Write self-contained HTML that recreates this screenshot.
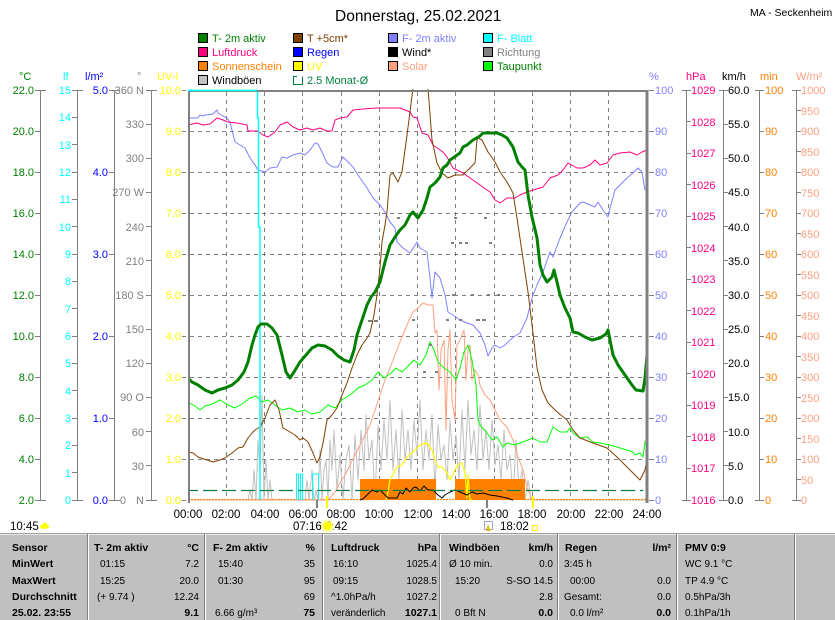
<!DOCTYPE html>
<html><head><meta charset="utf-8"><style>
html,body{margin:0;padding:0;background:#fff;}
svg{display:block;font-family:"Liberation Sans",Arial,sans-serif;}
.t11{font-size:11px}
.tb{font-size:10.5px;font-weight:bold}
.tr{font-size:10px}
</style></head><body>
<svg width="835" height="620" viewBox="0 0 835 620" xmlns="http://www.w3.org/2000/svg">
<rect width="835" height="620" fill="#fff"/>
<!-- title -->
<text x="335" y="21" font-size="15.5" fill="#000">Donnerstag, 25.02.2021</text>
<text x="750" y="16" font-size="10.5" fill="#000">MA - Seckenheim</text>

<!-- legend -->
<g class="t11" stroke="#000" stroke-width="1">
<rect x="198.5" y="33.5" width="9" height="9" fill="#008000"/>
<rect x="198.5" y="47.5" width="9" height="9" fill="#ff0080"/>
<rect x="198.5" y="61.5" width="9" height="9" fill="#ff8000"/>
<rect x="198.5" y="75.5" width="9" height="9" fill="#c0c0c0"/>
<rect x="293.5" y="33.5" width="9" height="9" fill="#804000"/>
<rect x="293.5" y="47.5" width="9" height="9" fill="#0000ff"/>
<rect x="293.5" y="61.5" width="9" height="9" fill="#ffff00"/>
<rect x="388.5" y="33.5" width="9" height="9" fill="#8080ff"/>
<rect x="388.5" y="47.5" width="9" height="9" fill="#000"/>
<rect x="388.5" y="61.5" width="9" height="9" fill="#ffa080"/>
<rect x="483.5" y="33.5" width="9" height="9" fill="#00ffff"/>
<rect x="483.5" y="47.5" width="9" height="9" fill="#808080"/>
<rect x="483.5" y="61.5" width="9" height="9" fill="#00ff00"/>
</g>
<path d="M297,76.5H293.5V84.5H302.5V76.5" fill="none" stroke="#008040" stroke-width="1"/>
<g class="t11" stroke="none">
<text x="212" y="42" fill="#008000">T- 2m aktiv</text>
<text x="212" y="56" fill="#ff0080">Luftdruck</text>
<text x="212" y="70" fill="#ff8000">Sonnenschein</text>
<text x="212" y="84" fill="#000">Windböen</text>
<text x="307" y="42" fill="#804000">T +5cm*</text>
<text x="307" y="56" fill="#0000ff">Regen</text>
<text x="307" y="70" fill="#ffff00">UV</text>
<text x="307" y="84" fill="#008040">2.5 Monat-Ø</text>
<text x="402" y="42" fill="#8080ff">F- 2m aktiv</text>
<text x="402" y="56" fill="#000">Wind*</text>
<text x="402" y="70" fill="#ffa080">Solar</text>
<text x="497" y="42" fill="#00ffff">F- Blatt</text>
<text x="497" y="56" fill="#808080">Richtung</text>
<text x="497" y="70" fill="#008000">Taupunkt</text>
</g>

<!-- unit headers -->
<g class="t11">
<text x="19" y="80" fill="#008000">°C</text>
<text x="63" y="80" fill="#00ffff">lf</text>
<text x="85" y="80" fill="#0000ff">l/m²</text>
<text x="137" y="80" fill="#808080">°</text>
<text x="157" y="80" fill="#ffff00">UV-I</text>
<text x="649" y="80" fill="#8080ff">%</text>
<text x="686" y="80" fill="#ff0080">hPa</text>
<text x="722" y="80" fill="#000">km/h</text>
<text x="760" y="80" fill="#ff8000">min</text>
<text x="796" y="80" fill="#ffa080">W/m²</text>
</g>

<!-- axis lines & ticks -->
<g fill="none" stroke="#808080" stroke-width="1" shape-rendering="crispEdges">
<path d="M40.5,90V500 M35,90.5h11 M35,131.5h6 M35,172.5h6 M35,213.5h6 M35,254.5h6 M35,295.5h6 M35,336.5h6 M35,377.5h6 M35,418.5h6 M35,459.5h6 M35,500.5h11"/>
<path d="M77.5,90V500 M72,90.5h11 M72,117.5h6 M72,144.5h6 M72,172.5h6 M72,199.5h6 M72,226.5h6 M72,254.5h6 M72,281.5h6 M72,308.5h6 M72,336.5h6 M72,363.5h6 M72,390.5h6 M72,418.5h6 M72,445.5h6 M72,472.5h6 M72,500.5h11"/>
<path d="M114.5,90V500 M109,90.5h11 M109,172.5h6 M109,254.5h6 M109,336.5h6 M109,418.5h6 M109,500.5h11"/>
<path d="M151.5,90V500 M146,90.5h11 M146,124.5h6 M146,158.5h6 M146,192.5h6 M146,226.5h6 M146,260.5h6 M146,295.5h6 M146,329.5h6 M146,363.5h6 M146,397.5h6 M146,431.5h6 M146,465.5h6 M146,500.5h11"/>
<path d="M649,90.5h5 M649,131.5h5 M649,172.5h5 M649,213.5h5 M649,254.5h5 M649,295.5h5 M649,336.5h5 M649,377.5h5 M649,418.5h5 M649,459.5h5 M649,500.5h5"/>
<path d="M686.5,90V500 M682,90.5h9 M686,121.5h5 M686,153.5h5 M686,184.5h5 M686,216.5h5 M686,247.5h5 M686,279.5h5 M686,310.5h5 M686,342.5h5 M686,373.5h5 M686,405.5h5 M686,436.5h5 M686,468.5h5 M682,500.5h9"/>
<path d="M723.5,90V500 M719,90.5h9 M723,124.5h5 M723,158.5h5 M723,192.5h5 M723,226.5h5 M723,260.5h5 M723,295.5h5 M723,329.5h5 M723,363.5h5 M723,397.5h5 M723,431.5h5 M723,465.5h5 M719,500.5h9"/>
<path d="M759.5,90V500 M755,90.5h9 M759,131.5h5 M759,172.5h5 M759,213.5h5 M759,254.5h5 M759,295.5h5 M759,336.5h5 M759,377.5h5 M759,418.5h5 M759,459.5h5 M755,500.5h9"/>
<path d="M796.5,90V500 M792,90.5h9 M796,110.5h5 M796,131.5h5 M796,151.5h5 M796,172.5h5 M796,192.5h5 M796,213.5h5 M796,233.5h5 M796,254.5h5 M796,274.5h5 M796,295.5h5 M796,315.5h5 M796,336.5h5 M796,356.5h5 M796,377.5h5 M796,397.5h5 M796,418.5h5 M796,438.5h5 M796,459.5h5 M796,479.5h5 M792,500.5h9"/>
</g>

<!-- left axis labels -->
<g class="t11" text-anchor="end">
<g fill="#008000">
<text x="34" y="94">22.0</text><text x="34" y="135">20.0</text><text x="34" y="176">18.0</text><text x="34" y="217">16.0</text><text x="34" y="258">14.0</text><text x="34" y="299">12.0</text><text x="34" y="340">10.0</text><text x="34" y="381">8.0</text><text x="34" y="422">6.0</text><text x="34" y="463">4.0</text><text x="34" y="504">2.0</text>
</g>
<g fill="#00ffff">
<text x="71" y="94">15</text><text x="71" y="121">14</text><text x="71" y="149">13</text><text x="71" y="176">12</text><text x="71" y="203">11</text><text x="71" y="231">10</text><text x="71" y="258">9</text><text x="71" y="285">8</text><text x="71" y="313">7</text><text x="71" y="340">6</text><text x="71" y="367">5</text><text x="71" y="395">4</text><text x="71" y="422">3</text><text x="71" y="449">2</text><text x="71" y="477">1</text><text x="71" y="504">0</text>
</g>
<g fill="#0000ff">
<text x="108" y="94">5.0</text><text x="108" y="176">4.0</text><text x="108" y="258">3.0</text><text x="108" y="340">2.0</text><text x="108" y="422">1.0</text><text x="108" y="504">0.0</text>
</g>
<g fill="#808080">
<text x="144" y="94">360 N</text><text x="144" y="128">330</text><text x="144" y="162">300</text><text x="144" y="196">270 W</text><text x="144" y="231">240</text><text x="144" y="265">210</text><text x="144" y="299">180 S</text><text x="144" y="333">150</text><text x="144" y="367">120</text><text x="144" y="401">90  O</text><text x="144" y="436">60</text><text x="144" y="470">30</text><text x="126" y="504">0</text><text x="144" y="504">N</text>
</g>
<g fill="#ffff00">
<text x="181" y="94">10.0</text><text x="181" y="135">9.0</text><text x="181" y="176">8.0</text><text x="181" y="217">7.0</text><text x="181" y="258">6.0</text><text x="181" y="299">5.0</text><text x="181" y="340">4.0</text><text x="181" y="381">3.0</text><text x="181" y="422">2.0</text><text x="181" y="463">1.0</text><text x="181" y="504">0.0</text>
</g>
</g>

<!-- right axis labels -->
<g class="t11">
<g fill="#8080ff">
<text x="655" y="94">100</text><text x="655" y="135">90</text><text x="655" y="176">80</text><text x="655" y="217">70</text><text x="655" y="258">60</text><text x="655" y="299">50</text><text x="655" y="340">40</text><text x="655" y="381">30</text><text x="655" y="422">20</text><text x="655" y="463">10</text><text x="655" y="504">0</text>
</g>
<g fill="#ff0080">
<text x="691" y="94">1029</text><text x="691" y="126">1028</text><text x="691" y="157">1027</text><text x="691" y="189">1026</text><text x="691" y="220">1025</text><text x="691" y="252">1024</text><text x="691" y="283">1023</text><text x="691" y="315">1022</text><text x="691" y="346">1021</text><text x="691" y="378">1020</text><text x="691" y="409">1019</text><text x="691" y="441">1018</text><text x="691" y="472">1017</text><text x="691" y="504">1016</text>
</g>
<g fill="#000">
<text x="728" y="94">60.0</text><text x="728" y="128">55.0</text><text x="728" y="162">50.0</text><text x="728" y="196">45.0</text><text x="728" y="231">40.0</text><text x="728" y="265">35.0</text><text x="728" y="299">30.0</text><text x="728" y="333">25.0</text><text x="728" y="367">20.0</text><text x="728" y="401">15.0</text><text x="728" y="436">10.0</text><text x="728" y="470">5.0</text><text x="728" y="504">0.0</text>
</g>
<g fill="#ff8000">
<text x="765" y="94">100</text><text x="765" y="135">90</text><text x="765" y="176">80</text><text x="765" y="217">70</text><text x="765" y="258">60</text><text x="765" y="299">50</text><text x="765" y="340">40</text><text x="765" y="381">30</text><text x="765" y="422">20</text><text x="765" y="463">10</text><text x="765" y="504">0</text>
</g>
<g fill="#ffa080">
<text x="801" y="94">1000</text><text x="801" y="115">950</text><text x="801" y="135">900</text><text x="801" y="156">850</text><text x="801" y="176">800</text><text x="801" y="197">750</text><text x="801" y="217">700</text><text x="801" y="238">650</text><text x="801" y="258">600</text><text x="801" y="279">550</text><text x="801" y="299">500</text><text x="801" y="320">450</text><text x="801" y="340">400</text><text x="801" y="361">350</text><text x="801" y="381">300</text><text x="801" y="402">250</text><text x="801" y="422">200</text><text x="801" y="443">150</text><text x="801" y="463">100</text><text x="801" y="484">50</text><text x="801" y="504">0</text>
</g>
</g>

<!-- grid -->
<g fill="none" stroke="#808080" stroke-width="1" stroke-dasharray="4,4" shape-rendering="crispEdges">
<path d="M182,90.5h6 M182,500.5h6 M182,131.5H646 M182,172.5H646 M182,213.5H646 M182,254.5H646 M182,295.5H646 M182,336.5H646 M182,377.5H646 M182,418.5H646 M182,459.5H646"/>
<path d="M226.5,92V500 M264.5,92V500 M302.5,92V500 M341.5,92V500 M379.5,92V500 M417.5,92V500 M455.5,92V500 M494.5,92V500 M532.5,92V500 M570.5,92V500 M608.5,92V500"/>
</g>

<defs><clipPath id="pc"><rect x="188" y="89" width="460" height="413"/></clipPath></defs>
<g clip-path="url(#pc)" fill="none" stroke-linejoin="round">
<!-- Windböen -->
<polyline stroke="#c0c0c0" stroke-width="1" points="188,500 248,500 250,490 252,500 254,470 256,500 258,440 260,470 262,395 264,500 266,460 268,500 270,480 272,500 305,500 307,480 309,500 312,470 314,500 316,490 318,500 320,450 322,500 324,470 326,460 328,500 330,440 332,470 334,430 337,490 340,455 343,500 346,460 349,445 352,500 355,435 358,480 361,430 364,470 366,415 369,460 372,440 375,500 378,425 381,470 384,420 387,460 390,400 393,470 396,430 399,480 402,410 405,460 408,430 411,470 414,420 417,455 420,400 423,470 426,430 429,460 432,415 435,490 438,425 441,460 444,445 447,480 450,420 453,460 456,435 459,480 462,410 465,470 468,400 471,455 474,430 477,470 480,405 483,460 486,430 489,470 492,420 495,465 498,445 501,480 504,430 507,470 510,455 513,500 516,440 519,490 522,470 525,500 528,480 531,500 647,500"/>
<!-- Sonnenschein -->
<rect x="360" y="479" width="76" height="21" fill="#ff8000"/>
<rect x="455" y="479" width="70" height="21" fill="#ff8000"/>
<line x1="188" y1="499.5" x2="647" y2="499.5" stroke="#ff8000" stroke-width="1.2" stroke-dasharray="2,1"/>
<!-- Solar -->
<polyline stroke="#ffa080" stroke-width="1" points="188,500 328,500 335,492 340,483 345,475 350,465 355,455 360,445 365,435 370,425 375,410 380,395 385,380 390,368 395,355 400,342 405,330 410,318 413,312 418,308 423,303 428,305 433,305 435,333 437,330 439,390 441,350 444,340 446,430 448,350 450,330 452,400 455,420 457,345 460,340 462,335 464,330 466,380 468,350 470,345 472,380 475,370 478,375 480,385 485,395 490,400 495,410 500,420 507,427 513,440 518,457 523,470 527,487 532,500"/>
<!-- UV -->
<polyline stroke="#ffff00" stroke-width="1.2" points="386,500 387,497 390,480 397,467 402,465 407,457 413,452 420,445 427,443 432,450 435,460 438,467 442,467 447,473 450,480 455,470 458,465 462,463 465,473 467,498 468,475 470,500 472,500"/>
<!-- Wind -->
<polyline stroke="#000" stroke-width="1" points="360,500 363,499 367,495 372,490 377,492 380,490 385,495 388,498 397,498 400,492 403,494 406,488 410,492 413,488 416,487 420,491 424,486 428,490 433,490 438,495 442,498 445,495 450,492 455,490 460,492 467,495 472,492 477,494 483,493 490,495 497,496 502,497 507,498 510,499 513,500"/>
<!-- Taupunkt -->
<polyline stroke="#00ff00" stroke-width="1" points="188,402 195,406 200,410 205,406 212,404 220,400 228,405 235,408 242,404 250,398 256,396 262,402 268,400 275,405 282,410 290,408 298,412 305,410 312,414 320,412 328,405 335,408 342,400 350,395 358,388 365,385 372,380 378,372 384,378 390,374 396,368 402,372 408,366 414,360 420,365 426,355 430,342 434,350 438,362 444,368 450,372 456,380 460,368 464,352 468,345 472,360 476,385 478,420 480,425 487,433 492,440 497,437 503,447 507,443 515,445 520,443 528,440 533,438 540,442 547,442 553,427 560,432 567,432 570,428 573,433 580,438 587,437 593,442 600,443 610,445 620,448 627,450 633,452 635,455 640,453 643,457 645,442 647,442"/>
<!-- F 2m -->
<polyline stroke="#8080ff" stroke-width="1" points="188,118 198,118 200,115 203,116 205,115 213,114 217,110 218,113 223,116 227,118 230,122 235,142 240,145 245,148 250,158 255,165 258,170 265,172 270,168 277,167 282,157 287,158 293,155 300,153 305,155 310,150 315,143 318,144 322,152 327,163 333,167 338,167 343,157 348,162 353,167 360,178 367,188 373,198 380,205 385,212 390,222 395,228 397,242 403,248 410,253 417,242 420,248 427,252 430,278 432,298 435,272 440,278 445,295 448,312 453,315 460,320 467,323 473,325 480,333 485,345 488,356 492,348 495,345 500,348 505,345 510,340 515,336 520,333 527,318 532,298 537,285 543,272 550,252 553,257 560,238 567,222 572,212 580,203 583,202 590,205 595,207 598,202 603,210 608,217 610,208 615,190 620,185 627,178 633,173 638,168 642,172 645,190"/>
<!-- Luftdruck -->
<polyline stroke="#ff0080" stroke-width="1" points="188,125 197,123 203,125 210,124 217,118 223,120 228,122 237,123 247,125 248,131 258,131 263,135 268,137 275,132 280,125 287,122 293,127 300,130 307,128 313,130 320,128 327,131 332,131 335,120 340,118 347,117 353,110 363,109 377,108 390,108 400,108 410,112 413,117 417,118 422,133 428,135 433,145 443,152 447,157 453,168 457,170 463,173 470,178 480,185 490,192 495,200 500,203 507,198 515,198 520,195 527,192 533,190 543,187 550,178 558,175 563,170 568,163 577,168 583,168 590,165 595,160 600,165 607,163 613,155 620,153 630,152 637,155 642,152 647,150"/>
<!-- T +5cm -->
<polyline stroke="#804000" stroke-width="1" points="188,452 193,453 198,457 207,460 213,462 220,460 225,458 232,453 238,448 243,447 248,438 252,433 255,430 260,427 265,418 270,405 275,400 279,410 283,428 290,432 295,435 300,440 303,438 308,442 313,453 317,463 320,457 323,443 327,420 332,415 337,408 342,395 347,383 352,368 357,355 362,345 367,338 370,333 374,315 377,295 380,268 382,242 385,225 387,212 390,175 393,173 398,182 402,172 407,135 410,112 413,88 428,88 432,140 437,163 442,173 448,178 455,175 463,175 468,170 475,163 477,140 478,138 482,140 488,152 495,162 500,172 507,182 513,193 517,218 522,252 528,292 533,333 537,368 542,390 548,403 555,410 562,416 567,420 573,430 580,438 593,443 607,448 617,457 630,470 640,480 645,470 647,458"/>
<!-- F Blatt -->
<polyline stroke="#00ffff" stroke-width="1.5" points="188,90.5 257.5,90.5 257.5,118 258.5,118 258.5,227 260,227 260,500"/>
<path stroke="#00ffff" stroke-width="1" d="M296.5,500V474H298.5V500 M300.5,500V474H302.5V500 M312.5,500V474H318.5V500"/>
<!-- T 2m -->
<polyline stroke="#008000" stroke-width="3" points="188,378 192,382 198,385 205,390 212,393 218,390 225,388 232,385 238,380 244,372 248,362 252,345 255,335 258,327 261,324 267,324 272,328 277,335 282,355 286,372 290,378 294,372 300,362 306,355 312,348 318,345 325,346 332,350 338,356 344,360 350,362 354,350 357,335 362,320 367,305 371,297 375,292 380,282 385,262 390,245 395,237 400,230 405,225 410,215 413,212 418,218 423,210 427,198 430,187 435,183 440,177 443,168 447,165 450,160 453,158 460,153 463,147 467,145 473,140 480,136 483,133 490,133 497,133 502,135 507,138 513,147 518,162 522,167 525,170 528,195 532,217 537,238 540,265 543,275 547,282 552,277 554,270 557,282 560,295 565,308 570,318 573,332 578,333 585,337 592,340 600,338 606,334 608,330 610,340 613,355 618,365 625,375 632,385 636,390 643,391 645,378 647,355"/>
<!-- 2.5 Monat -->
<line x1="184" y1="490.5" x2="643" y2="490.5" stroke="#008040" stroke-width="1.3" stroke-dasharray="14,5"/>
<!-- Richtung -->
<g fill="#808080" stroke="none">
<rect x="368" y="320" width="4" height="2"/><rect x="374" y="320" width="4" height="2"/>
<rect x="397" y="217" width="3" height="2"/><rect x="412" y="319" width="3" height="2"/>
<rect x="446" y="319" width="3" height="2"/><rect x="452" y="294" width="3" height="2"/>
<rect x="454" y="217" width="3" height="2"/><rect x="451" y="242" width="3" height="2"/>
<rect x="459" y="242" width="3" height="2"/><rect x="465" y="242" width="3" height="2"/>
<rect x="459" y="319" width="3" height="2"/><rect x="471" y="294" width="3" height="2"/>
<rect x="476" y="319" width="4" height="2"/><rect x="482" y="319" width="4" height="2"/>
<rect x="484" y="217" width="3" height="2"/><rect x="487" y="294" width="3" height="2"/>
<rect x="489" y="242" width="3" height="2"/><rect x="497" y="294" width="3" height="2"/>
<rect x="429" y="344" width="3" height="2"/><rect x="423" y="371" width="3" height="2"/>
<rect x="435" y="371" width="3" height="2"/>
</g>
</g>

<!-- plot border -->
<g stroke="#808080" fill="none" shape-rendering="crispEdges">
<line x1="188" y1="91" x2="647" y2="91" stroke-width="2" stroke="#808080"/>
<line x1="189" y1="90" x2="189" y2="503" stroke-width="2"/>
<line x1="647" y1="90" x2="647" y2="503" stroke-width="3"/>
</g>
<line x1="188" y1="90.5" x2="257" y2="90.5" stroke="#00ffff" stroke-width="1.5"/>

<!-- markers under axis -->
<rect x="316" y="500" width="2" height="8" fill="#808080"/>
<rect x="486" y="500" width="2" height="8" fill="#808080"/>
<rect x="326" y="496" width="2" height="12" fill="#ffff00"/>
<rect x="532" y="496" width="2" height="12" fill="#ffff00"/>

<!-- x labels -->
<g font-size="11.5" text-anchor="middle" fill="#000">
<text x="188" y="518">00:00</text><text x="226" y="518">02:00</text><text x="265" y="518">04:00</text><text x="303" y="518">06:00</text><text x="341" y="518">08:00</text><text x="379" y="518">10:00</text><text x="418" y="518">12:00</text><text x="456" y="518">14:00</text><text x="494" y="518">16:00</text><text x="532" y="518">18:00</text><text x="571" y="518">20:00</text><text x="609" y="518">22:00</text><text x="647" y="518">24:00</text>
</g>
<g font-size="11.5" fill="#000">
<text x="10" y="530">10:45</text>
<text x="293" y="530">07:16</text>
<text x="325" y="530">6:42</text>
<text x="500" y="530">18:02</text>
</g>
<ellipse cx="44.5" cy="526.5" rx="4.5" ry="2.5" fill="#ffff00"/>
<circle cx="45" cy="524.5" r="2" fill="#ffff00"/>
<circle cx="327.5" cy="526" r="4.5" fill="#ffff00"/>
<circle cx="327.5" cy="526" r="6" fill="none" stroke="#ffff80" stroke-width="1"/>
<rect x="484.5" y="521.5" width="8" height="8" fill="none" stroke="#4040c0" stroke-width="1" stroke-dasharray="1,1"/>
<path d="M488,524 L486,531 L491,531 Z" fill="#e0c000"/>
<rect x="532.5" y="525.5" width="5" height="5" fill="none" stroke="#ffff00" stroke-width="1"/>

<!-- table -->
<rect x="0" y="533" width="835" height="87" fill="#c0c0c0"/>
<line x1="0" y1="533.5" x2="835" y2="533.5" stroke="#a0a0a0" stroke-width="1"/>
<line x1="0" y1="534.5" x2="835" y2="534.5" stroke="#e8e8e8" stroke-width="1"/>
<g stroke-width="1" shape-rendering="crispEdges">
<g stroke="#808080">
<line x1="87.5" y1="534" x2="87.5" y2="620"/><line x1="204.5" y1="534" x2="204.5" y2="620"/><line x1="322.5" y1="534" x2="322.5" y2="620"/><line x1="439.5" y1="534" x2="439.5" y2="620"/><line x1="557.5" y1="534" x2="557.5" y2="620"/><line x1="676.5" y1="534" x2="676.5" y2="620"/><line x1="794.5" y1="534" x2="794.5" y2="620"/>
</g>
<g stroke="#ffffff">
<line x1="88.5" y1="534" x2="88.5" y2="620"/><line x1="205.5" y1="534" x2="205.5" y2="620"/><line x1="323.5" y1="534" x2="323.5" y2="620"/><line x1="440.5" y1="534" x2="440.5" y2="620"/><line x1="558.5" y1="534" x2="558.5" y2="620"/><line x1="677.5" y1="534" x2="677.5" y2="620"/><line x1="795.5" y1="534" x2="795.5" y2="620"/>
</g>
</g>
<g fill="#000">
<g class="tb">
<text x="12" y="551">Sensor</text><text x="12" y="567">MinWert</text><text x="12" y="584">MaxWert</text><text x="12" y="600">Durchschnitt</text><text x="12" y="616">25.02. 23:55</text>
<text x="94" y="551">T- 2m aktiv</text><text x="199" y="551" text-anchor="end">°C</text>
<text x="213" y="551">F- 2m aktiv</text><text x="315" y="551" text-anchor="end">%</text>
<text x="331" y="551">Luftdruck</text><text x="437" y="551" text-anchor="end">hPa</text>
<text x="449" y="551">Windböen</text><text x="553" y="551" text-anchor="end">km/h</text>
<text x="565" y="551">Regen</text><text x="671" y="551" text-anchor="end">l/m²</text>
<text x="685" y="551">PMV 0:9</text>
<text x="199" y="616" text-anchor="end">9.1</text>
<text x="315" y="616" text-anchor="end">75</text>
<text x="437" y="616" text-anchor="end">1027.1</text>
<text x="553" y="616" text-anchor="end">0.0</text>
<text x="671" y="616" text-anchor="end">0.0</text>
</g>
<g class="tr">
<text x="100" y="567">01:15</text><text x="199" y="567" text-anchor="end">7.2</text>
<text x="218" y="567">15:40</text><text x="315" y="567" text-anchor="end">35</text>
<text x="333" y="567">16:10</text><text x="437" y="567" text-anchor="end">1025.4</text>
<text x="449" y="567">Ø 10 min.</text><text x="553" y="567" text-anchor="end">0.0</text>
<text x="564" y="567">3:45 h</text>
<text x="685" y="567">WC 9.1 °C</text>

<text x="100" y="584">15:25</text><text x="199" y="584" text-anchor="end">20.0</text>
<text x="218" y="584">01:30</text><text x="315" y="584" text-anchor="end">95</text>
<text x="333" y="584">09:15</text><text x="437" y="584" text-anchor="end">1028.5</text>
<text x="455" y="584">15:20</text><text x="553" y="584" text-anchor="end">S-SO 14.5</text>
<text x="570" y="584">00:00</text><text x="671" y="584" text-anchor="end">0.0</text>
<text x="685" y="584">TP 4.9 °C</text>

<text x="97" y="600">(+ 9.74 )</text><text x="199" y="600" text-anchor="end">12.24</text>
<text x="315" y="600" text-anchor="end">69</text>
<text x="331" y="600">^1.0hPa/h</text><text x="437" y="600" text-anchor="end">1027.2</text>
<text x="553" y="600" text-anchor="end">2.8</text>
<text x="564" y="600">Gesamt:</text><text x="671" y="600" text-anchor="end">0.0</text>
<text x="685" y="600">0.5hPa/3h</text>

<text x="215" y="616">6.66 g/m³</text>
<text x="331" y="616">veränderlich</text>
<text x="455" y="616">0 Bft N</text>
<text x="570" y="616">0.0 l/m²</text>
<text x="685" y="616">0.1hPa/1h</text>
</g>
</g>
</svg>
</body></html>
